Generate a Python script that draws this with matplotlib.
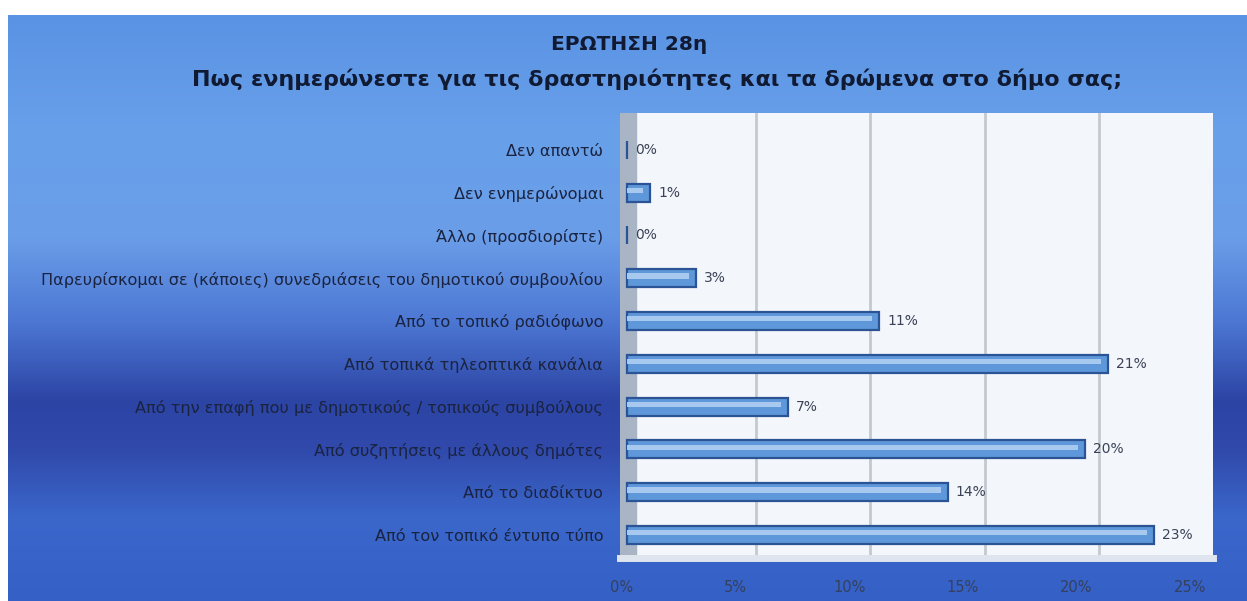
import matplotlib
matplotlib.use("Agg")
import matplotlib.pyplot as plt
import numpy as np
from matplotlib.colors import LinearSegmentedColormap

plt.rcParams['font.family'] = ['DejaVu Sans']

title_line1 = "ΕΡΩΤΗΣΗ 28η"
title_line2 = "Πως ενημερώνεστε για τις δραστηριότητες και τα δρώμενα στο δήμο σας;"

categories = [
    "Δεν απαντώ",
    "Δεν ενημερώνομαι",
    "Άλλο (προσδιορίστε)",
    "Παρευρίσκομαι σε (κάποιες) συνεδριάσεις του δημοτικού συμβουλίου",
    "Από το τοπικό ραδιόφωνο",
    "Από τοπικά τηλεοπτικά κανάλια",
    "Από την επαφή που με δημοτικούς / τοπικούς συμβούλους",
    "Από συζητήσεις με άλλους δημότες",
    "Από το διαδίκτυο",
    "Από τον τοπικό έντυπο τύπο",
]
values = [0, 1, 0, 3, 11, 21, 7, 20, 14, 23]
value_labels = ["0%", "1%", "0%", "3%", "11%", "21%", "7%", "20%", "14%", "23%"]
xticks = [0, 5, 10, 15, 20, 25]
xtick_labels = ["0%", "5%", "10%", "15%", "20%", "25%"]

W, H = 1247, 601
fig = plt.figure(figsize=(W / 100, H / 100), dpi=100)
fig.patch.set_facecolor("white")

# background gradient panel
bg = fig.add_axes([8 / W, 0, (W - 8) / W, 1 - 15 / H])
bg.set_axis_off()
stops = [(0.0, "#5a93e4"), (0.20, "#68a0ea"), (0.38, "#6a9de8"), (0.52, "#4d78d4"),
         (0.66, "#2c44a4"), (0.74, "#3049aa"), (0.86, "#3b67cb"), (1.0, "#3560c6")]
cmap = LinearSegmentedColormap.from_list("bgc", stops)
grad = np.linspace(0, 1, 256).reshape(-1, 1)
bg.imshow(grad, aspect="auto", cmap=cmap, extent=[0, 1, 0, 1], origin="upper")
bg.set_xlim(0, 1)
bg.set_ylim(0, 1)

fig.text(629 / W, 1 - 45 / H, title_line1, ha="center", va="center",
         fontsize=14.5, fontweight="bold", color="#101a33")
fig.text(657 / W, 1 - 79 / H, title_line2, ha="center", va="center",
         fontsize=16, fontweight="bold", color="#101a33")

# main plot (back wall)
left_px, right_px, top_px, bot_px = 620, 1213, 113, 558
ax = fig.add_axes([left_px / W, 1 - bot_px / H, (right_px - left_px) / W, (bot_px - top_px) / H])
ax.set_facecolor("#f3f6fb")
ax.set_xlim(-0.92, 24.98)
n = len(categories)
ypos = np.arange(n)[::-1]
ax.set_ylim(-0.54, n - 1 + 0.86)

ax.axvspan(-0.92, -0.2, color="#a9b4c4", zorder=1)
for x in xticks[1:-1]:
    ax.axvline(x, color="#c4c9d0", lw=2, zorder=1)

bar_left = -0.6
ax.barh(ypos, values, left=bar_left, height=0.42, color="#5e98da", edgecolor="#2b5497",
        linewidth=1.6, zorder=3)
ax.barh(ypos + 0.05, [max(v - 0.3, 0) for v in values], left=bar_left, height=0.12,
        color="#a8c9ef", linewidth=0, zorder=4)
for y, v, lab in zip(ypos, values, value_labels):
    ax.text(v + bar_left + 0.35, y, lab, va="center", ha="left", fontsize=10,
            color="#3a4256", zorder=5)

ax.set_yticks(ypos)
ax.set_yticklabels(categories, fontsize=11.6, color="#1a2340")
ax.tick_params(axis="y", length=0, pad=12)
ax.set_xticks([])
for s in ax.spines.values():
    s.set_visible(False)
ax.spines["bottom"].set_visible(True)
ax.spines["bottom"].set_color("#dfe5ee")
ax.spines["bottom"].set_linewidth(5)

# front axis tick labels (perspective: wider than back wall)
ax2 = fig.add_axes([622 / W, 1 - 576 / H, (1190 - 622) / W, 0.001])
ax2.set_xlim(0, 25)
ax2.set_xticks(xticks)
ax2.set_xticklabels(xtick_labels, fontsize=10.5, color="#34405e")
ax2.tick_params(axis="x", length=0, pad=3)
ax2.set_yticks([])
ax2.patch.set_alpha(0)
for s in ax2.spines.values():
    s.set_visible(False)

fig.savefig("out.png", dpi=100)
